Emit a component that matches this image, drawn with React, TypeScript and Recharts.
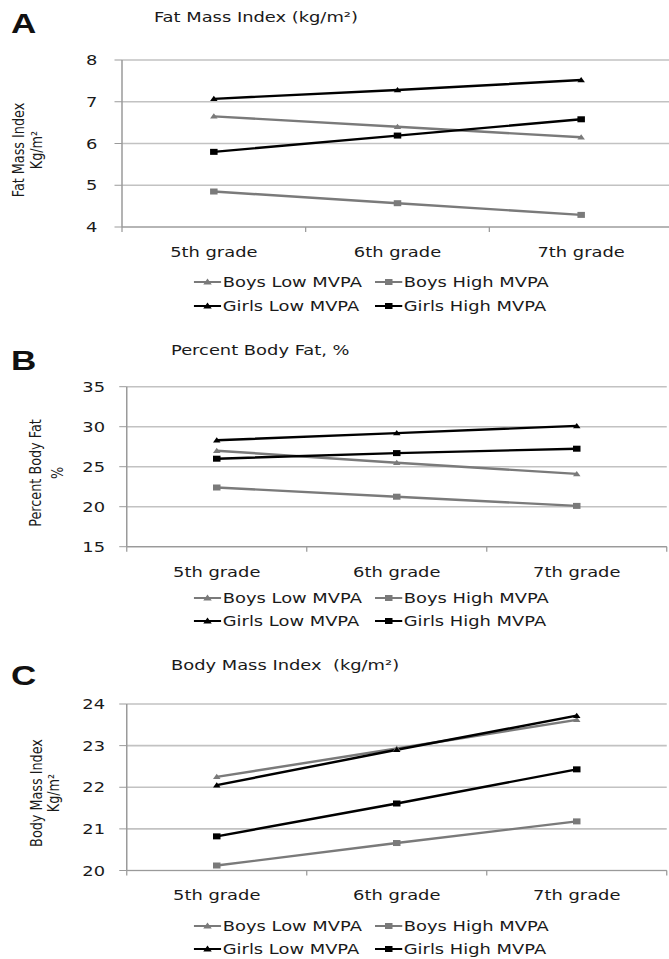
import { LineChart, Line, XAxis, YAxis, CartesianGrid, Legend } from 'recharts';

// the source figure is stretched horizontally, so every panel is drawn narrow and scaled in x
const STRETCH = 1.25;
const CHART_W = 540;
const FONT = "'DejaVu Sans', Verdana, sans-serif";
const TEXT_SIZE = 14.3;
const GRAY = '#7a7a7a';
const BLACK = '#000000';
const AXIS = '#9a9a9a';
const GRID = '#c2c2c2';

const GRADES = ['5th grade', '6th grade', '7th grade'];
const SERIES = ['Boys Low MVPA', 'Boys High MVPA', 'Girls Low MVPA', 'Girls High MVPA'];

// A: Fat Mass Index
const FMI_BOYS_LOW = [6.65, 6.4, 6.15];
const FMI_BOYS_HIGH = [4.85, 4.57, 4.29];
const FMI_GIRLS_LOW = [7.07, 7.28, 7.52];
const FMI_GIRLS_HIGH = [5.8, 6.19, 6.58];
const FMI_TICKS = [4, 5, 6, 7, 8];

// B: Percent Body Fat
const PBF_BOYS_LOW = [27.0, 25.5, 24.1];
const PBF_BOYS_HIGH = [22.4, 21.25, 20.1];
const PBF_GIRLS_LOW = [28.3, 29.2, 30.1];
const PBF_GIRLS_HIGH = [26.0, 26.7, 27.25];
const PBF_TICKS = [15, 20, 25, 30, 35];

// C: Body Mass Index
const BMI_BOYS_LOW = [22.25, 22.93, 23.62];
const BMI_BOYS_HIGH = [20.12, 20.66, 21.18];
const BMI_GIRLS_LOW = [22.05, 22.9, 23.72];
const BMI_GIRLS_HIGH = [20.82, 21.61, 22.43];
const BMI_TICKS = [20, 21, 22, 23, 24];

const COLOR: Record<string, string> = {
  'Boys Low MVPA': GRAY,
  'Boys High MVPA': GRAY,
  'Girls Low MVPA': BLACK,
  'Girls High MVPA': BLACK,
};
const MARKER: Record<string, 'tri' | 'sq'> = {
  'Boys Low MVPA': 'tri',
  'Boys High MVPA': 'sq',
  'Girls Low MVPA': 'tri',
  'Girls High MVPA': 'sq',
};

function buildRows(values: number[][]) {
  return GRADES.map((grade, i) => {
    const row: Record<string, string | number> = { grade };
    SERIES.forEach((s, k) => {
      row[s] = values[k][i];
    });
    return row;
  });
}

function TriangleDot(props: any) {
  const { cx, cy, c, r = 4.4 } = props;
  if (cx == null || cy == null) return null;
  return (
    <polygon
      points={`${cx},${cy - r} ${cx + r},${cy + r * 0.75} ${cx - r},${cy + r * 0.75}`}
      fill={c}
    />
  );
}

function SquareDot(props: any) {
  const { cx, cy, c, r = 3.8 } = props;
  if (cx == null || cy == null) return null;
  return <rect x={cx - r} y={cy - r} width={r * 2} height={r * 2} fill={c} />;
}

function GradeTick(props: any) {
  const { x, y, payload, index, band, last } = props;
  return (
    <g>
      <line x1={x - band / 2} x2={x - band / 2} y1={y} y2={y + 5} stroke={AXIS} strokeWidth={1} />
      {index === last && (
        <line x1={x + band / 2} x2={x + band / 2} y1={y} y2={y + 5} stroke={AXIS} strokeWidth={1} />
      )}
      <text
        x={x}
        y={y + 25}
        textAnchor="middle"
        dominantBaseline="central"
        fontFamily={FONT}
        fontSize={TEXT_SIZE}
        fill="#1a1a1a"
      >
        {payload.value}
      </text>
    </g>
  );
}

function LegendBox(props: any) {
  const payload = [...(props.payload || [])].sort(
    (a: any, b: any) => SERIES.indexOf(a.value) - SERIES.indexOf(b.value)
  );
  return (
    <div
      style={{
        display: 'grid',
        gridTemplateColumns: '144.8px auto',
        fontFamily: FONT,
        fontSize: TEXT_SIZE,
        color: '#1a1a1a',
      }}
    >
      {payload.map((e: any) => (
        <div key={e.value} style={{ display: 'flex', alignItems: 'center', height: 23.5 }}>
          <svg width={22} height={10} style={{ display: 'block', flex: 'none' }}>
            <line x1={0} y1={5} x2={22} y2={5} stroke={e.color} strokeWidth={2.2} />
            {MARKER[e.value] === 'tri' ? (
              <TriangleDot cx={11} cy={5} c={e.color} r={3.4} />
            ) : (
              <SquareDot cx={11} cy={5} c={e.color} r={3} />
            )}
          </svg>
          <span style={{ marginLeft: 1, whiteSpace: 'nowrap' }}>{e.value}</span>
        </div>
      ))}
    </div>
  );
}

type PanelProps = {
  top: number;
  height: number;
  plotTop: number;
  plotBottom: number;
  plotLeft: number;
  plotRight: number;
  tickMargin: number;
  domain: [number, number];
  ticks: number[];
  values: number[][];
  yTitle: [string, string];
  yTitleX: [number, number];
  yTitleY: number;
  legendTop: number;
};

function Panel(p: PanelProps) {
  const data = buildRows(p.values);
  const band = (p.plotRight - p.plotLeft) / GRADES.length;
  const xAxisH = 30;
  return (
    <div style={{ position: 'absolute', left: 0, top: p.top, width: CHART_W, height: p.height }}>
      <LineChart
        width={CHART_W}
        height={p.height}
        data={data}
        margin={{
          top: p.plotTop,
          right: CHART_W - p.plotRight,
          bottom: p.height - p.plotBottom - xAxisH,
          left: 0,
        }}
      >
        <CartesianGrid vertical={false} stroke={GRID} strokeWidth={1.6} />
        <XAxis
          dataKey="grade"
          height={xAxisH}
          interval={0}
          padding={{ left: band / 2, right: band / 2 }}
          tickLine={false}
          tickSize={0}
          tickMargin={0}
          axisLine={{ stroke: AXIS, strokeWidth: 1.2 }}
          tick={<GradeTick band={band} last={GRADES.length - 1} />}
        />
        <YAxis
          width={p.plotLeft}
          domain={p.domain}
          ticks={p.ticks}
          interval={0}
          tickSize={6}
          tickMargin={p.tickMargin}
          axisLine={{ stroke: AXIS, strokeWidth: 1.2 }}
          tickLine={{ stroke: AXIS, strokeWidth: 1 }}
          tick={{ fill: '#1a1a1a', fontSize: TEXT_SIZE, fontFamily: FONT }}
          label={{
            content: () => (
              <g>
                {p.yTitle.map((t, i) => (
                  <text
                    key={i}
                    x={p.yTitleX[i]}
                    y={p.yTitleY}
                    transform={`rotate(-90, ${p.yTitleX[i]}, ${p.yTitleY})`}
                    textAnchor="middle"
                    dominantBaseline="central"
                    fontFamily={FONT}
                    fontSize={12.8}
                    fill="#1a1a1a"
                  >
                    {t}
                  </text>
                ))}
              </g>
            ),
          }}
        />
        <Legend
          layout="horizontal"
          verticalAlign="middle"
          align="center"
          content={<LegendBox />}
          wrapperStyle={{ top: p.legendTop, left: 155.2, width: 330, height: 47 }}
        />
        {SERIES.map((s) => (
          <Line
            key={s}
            dataKey={s}
            name={s}
            stroke={COLOR[s]}
            strokeWidth={2.4}
            isAnimationActive={false}
            dot={MARKER[s] === 'tri' ? <TriangleDot c={COLOR[s]} /> : <SquareDot c={COLOR[s]} />}
            activeDot={false}
          />
        ))}
      </LineChart>
    </div>
  );
}

export default function App() {
  return (
    <div
      style={{
        position: 'absolute',
        left: 0,
        top: 0,
        width: 669,
        height: 959,
        overflow: 'hidden',
        background: '#fff',
      }}
    >
      <div
        style={{
          position: 'relative',
          width: CHART_W,
          height: 959,
          transform: `scaleX(${STRETCH})`,
          transformOrigin: '0 0',
        }}
      >
        <Panel
          top={0}
          height={320}
          plotTop={60}
          plotBottom={227}
          plotLeft={97.6}
          plotRight={538.4}
          tickMargin={13.6}
          domain={[4, 8]}
          ticks={FMI_TICKS}
          values={[FMI_BOYS_LOW, FMI_BOYS_HIGH, FMI_GIRLS_LOW, FMI_GIRLS_HIGH]}
          yTitle={['Fat Mass Index', 'Kg/m²']}
          yTitleX={[14.4, 28.8]}
          yTitleY={150}
          legendTop={270.25}
        />
        <Panel
          top={320}
          height={320}
          plotTop={66.7}
          plotBottom={226.7}
          plotLeft={101.4}
          plotRight={533.4}
          tickMargin={11.4}
          domain={[15, 35]}
          ticks={PBF_TICKS}
          values={[PBF_BOYS_LOW, PBF_BOYS_HIGH, PBF_GIRLS_LOW, PBF_GIRLS_HIGH]}
          yTitle={['Percent Body Fat', '%']}
          yTitleX={[28, 45.6]}
          yTitleY={153}
          legendTop={266}
        />
        <Panel
          top={640}
          height={319}
          plotTop={64}
          plotBottom={230.5}
          plotLeft={101.4}
          plotRight={533.4}
          tickMargin={11.4}
          domain={[20, 24]}
          ticks={BMI_TICKS}
          values={[BMI_BOYS_LOW, BMI_BOYS_HIGH, BMI_GIRLS_LOW, BMI_GIRLS_HIGH]}
          yTitle={['Body Mass Index', 'Kg/m²']}
          yTitleX={[28.8, 42.4]}
          yTitleY={153}
          legendTop={274}
        />
        <svg
          width={CHART_W}
          height={959}
          style={{ position: 'absolute', left: 0, top: 0, pointerEvents: 'none' }}
        >
          <g
            fontFamily="'Liberation Sans Narrow', 'Liberation Sans', Arial, sans-serif"
            fontWeight="bold"
            fontSize={28}
            fill="#111"
          >
            <text x={8.8} y={33}>A</text>
            <text x={8.8} y={370}>B</text>
            <text x={8.8} y={685}>C</text>
          </g>
          <g fontFamily={FONT} fontSize={TEXT_SIZE} fill="#1a1a1a">
            <text x={123.2} y={22}>Fat Mass Index (kg/m²)</text>
            <text x={136.8} y={355}>Percent Body Fat, %</text>
            <text x={136.8} y={670} style={{ whiteSpace: 'pre' }}>
              Body Mass Index  (kg/m²)
            </text>
          </g>
        </svg>
      </div>
    </div>
  );
}
